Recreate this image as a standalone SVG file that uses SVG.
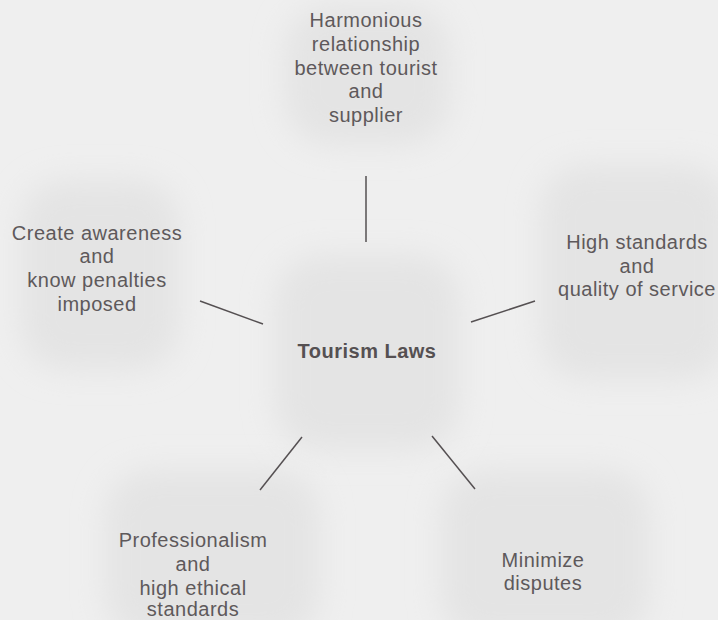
<svg xmlns="http://www.w3.org/2000/svg" width="718" height="620" viewBox="0 0 718 620">
  <defs>
    <filter id="soft" x="-40%" y="-40%" width="180%" height="180%">
      <feGaussianBlur stdDeviation="15"/>
    </filter>
    <style>
      .blob { fill: #e4e4e4; filter: url(#soft); }
      .lbl { font-family: "Liberation Sans", Arial, sans-serif; font-size: 20px; letter-spacing: 0.5px; fill: #5e595b; text-anchor: middle; }
      .hub { font-weight: bold; fill: #555052; }
      .link { stroke: #555052; stroke-width: 1.5; fill: none; }
    </style>
  </defs>
  <rect width="718" height="620" fill="#efefef"/>

  <!-- soft rounded shapes behind each label -->
  <g id="backdrops">
    <rect class="blob" x="285" y="5" width="165" height="140" rx="45"/>
    <rect class="blob" x="20" y="180" width="160" height="190" rx="45"/>
    <rect class="blob" x="540" y="165" width="190" height="215" rx="45"/>
    <rect class="blob" x="275" y="255" width="185" height="195" rx="45"/>
    <rect class="blob" x="105" y="470" width="215" height="170" rx="45"/>
    <rect class="blob" x="440" y="470" width="210" height="170" rx="45"/>
  </g>

  <g id="connectors">
    <line class="link" x1="366" y1="176" x2="366" y2="242"/>
    <line class="link" x1="200" y1="301" x2="263" y2="324"/>
    <line class="link" x1="471" y1="322" x2="535" y2="301"/>
    <line class="link" x1="302" y1="437" x2="260" y2="490"/>
    <line class="link" x1="432" y1="436" x2="475" y2="489"/>
  </g>

  <g id="hub">
    <text class="lbl hub" x="367" y="358">Tourism Laws</text>
  </g>

  <g id="node-harmony">
    <text class="lbl" x="366" y="27">Harmonious</text>
    <text class="lbl" x="366" y="51">relationship</text>
    <text class="lbl" x="366" y="75">between tourist</text>
    <text class="lbl" x="366" y="98">and</text>
    <text class="lbl" x="366" y="122">supplier</text>
  </g>

  <g id="node-awareness">
    <text class="lbl" x="97" y="240">Create awareness</text>
    <text class="lbl" x="97" y="263">and</text>
    <text class="lbl" x="97" y="287">know penalties</text>
    <text class="lbl" x="97" y="311">imposed</text>
  </g>

  <g id="node-standards">
    <text class="lbl" x="637" y="249">High standards</text>
    <text class="lbl" x="637" y="273">and</text>
    <text class="lbl" x="637" y="296">quality of service</text>
  </g>

  <g id="node-professionalism">
    <text class="lbl" x="193" y="547">Professionalism</text>
    <text class="lbl" x="193" y="571">and</text>
    <text class="lbl" x="193" y="595">high ethical</text>
    <text class="lbl" x="193" y="616">standards</text>
  </g>

  <g id="node-disputes">
    <text class="lbl" x="543" y="567">Minimize</text>
    <text class="lbl" x="543" y="590">disputes</text>
  </g>
</svg>
